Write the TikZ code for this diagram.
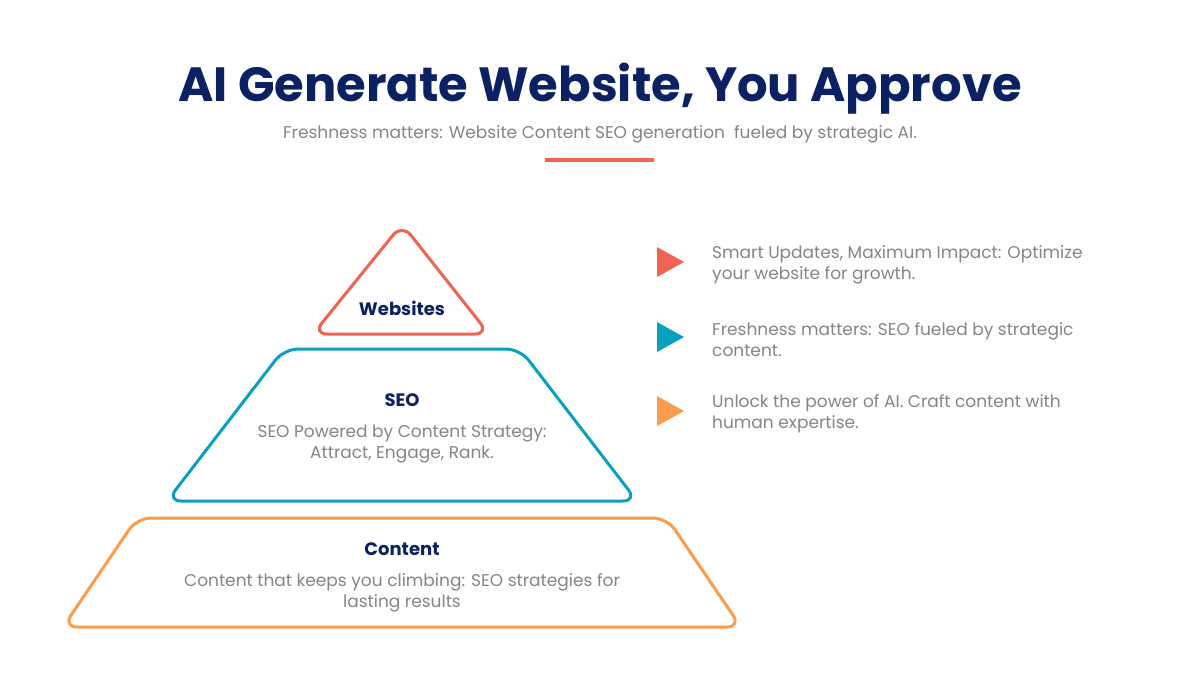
\documentclass[tikz,border=0pt]{standalone}
\usepackage{fontspec}
\setmainfont{Poppins}
\usetikzlibrary{positioning}
\definecolor{navy}{HTML}{0C2162}
\definecolor{txtgray}{HTML}{858585}
\definecolor{coral}{HTML}{EF6351}
\definecolor{seoblue}{HTML}{0A9FC1}
\definecolor{amber}{HTML}{FD9B4C}

\begin{document}
\begin{tikzpicture}[
  x=1pt, y=-1pt,
  title/.style={font=\fontsize{48}{54}\selectfont\bfseries, text=navy, inner sep=0pt, anchor=base},
  subtitle/.style={font=\fontsize{17}{20}\selectfont, text=txtgray, inner sep=0pt, anchor=base},
  layer/.style={line width=3pt, rounded corners=14pt, line join=round},
  head/.style={font=\fontsize{18}{21}\selectfont\bfseries, text=navy, inner sep=0pt},
  body/.style={font=\fontsize{17}{21}\selectfont, text=txtgray, align=center, inner sep=0pt},
  note/.style={font=\fontsize{17}{21}\selectfont, text=txtgray, align=left, anchor=west, inner sep=0pt},
]
\useasboundingbox[fill=white] (0,0) rectangle (1200,675);

% heading
\node[title]    (ttl) at (600,101) {AI Generate Website, You Approve};
\node[subtitle] (sub) at (600,138) {Freshness matters: Website Content SEO generation\ \ fueled by strategic AI.};
\draw[coral, line width=4pt] (545,160) -- (654,160);

% pyramid
\draw[layer, coral]   (402,224) -- (489,334) -- (313,334) -- cycle;
\draw[layer, seoblue] (284,349) -- (520,349) -- (637,501) -- (167,501) -- cycle;
\draw[layer, amber]   (137,518) -- (667,518) -- (741,627) -- (63,627) -- cycle;

\node[head] (web)     at (402,308) {Websites};
\node[head] (seo)     at (402,400) {SEO};
\node[body] (seotxt)  at (402,444) {SEO Powered by Content Strategy:\\Attract, Engage, Rank.};
\node[head] (cnt)     at (402,549) {Content};
\node[body] (cnttxt)  at (402,593) {Content that keeps you climbing: SEO strategies for\\lasting results};

% bullets
\fill[coral]   (657,247) -- (684,262) -- (657,277) -- cycle;
\fill[seoblue] (657,322) -- (684,337) -- (657,352) -- cycle;
\fill[amber]   (657,396) -- (684,411) -- (657,426) -- cycle;

\node[note] (n1) at (712,265) {Smart Updates, Maximum Impact: Optimize\\your website for growth.};
\node[note] (n2) at (712,340) {Freshness matters: SEO fueled by strategic\\content.};
\node[note] (n3) at (712,414) {Unlock the power of AI. Craft content with\\human expertise.};

\end{tikzpicture}
\end{document}
